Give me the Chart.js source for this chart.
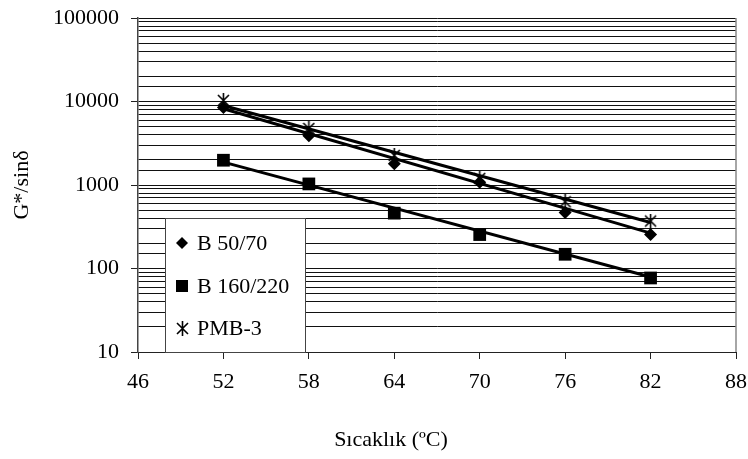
<!DOCTYPE html>
<html>
<head>
<meta charset="utf-8">
<script src="https://cdn.jsdelivr.net/npm/chart.js@4"></script>
<style>
  body { margin: 0; background: #fff; }
  #wrap { width: 748px; height: 459px; position: relative; }
</style>
</head>
<body>
<div id="wrap"><canvas id="chart" width="748" height="459"></canvas></div>
<script>
// values
const temps = [52, 58, 64, 70, 76, 82];
const seriesNames = ['B 50/70', 'B 160/220', 'PMB-3'];
const b5070 = [8500, 3900, 1800, 1080, 470, 255];
const b160220 = [1980, 1030, 460, 255, 148, 77];
const pmb3 = [10300, 4750, 2260, 1200, 630, 370];
// trend lines: end values at 52 and 82
const trendX = [52, 82];
const trendB5070 = [8200, 265];
const trendB160220 = [1880, 79];
const trendPmb3 = [8950, 355];
const xTicks = [46, 52, 58, 64, 70, 76, 82, 88];
const xTitle = 'Sıcaklık (ºC)';
const yTitle = 'G*/sinδ';

const FONT = "'Liberation Serif', 'Times New Roman', serif";
const FSIZE = 22;

// Excel-like star marker: X with a vertical bar
function makeStar(w, h) {
  const c = document.createElement('canvas');
  c.width = w; c.height = h;
  const g = c.getContext('2d');
  g.strokeStyle = '#000';
  g.lineWidth = 1.6;
  g.beginPath();
  g.moveTo(1, 2); g.lineTo(w - 1, h - 2);
  g.moveTo(w - 1, 2); g.lineTo(1, h - 2);
  g.moveTo(w / 2, 0); g.lineTo(w / 2, h);
  g.stroke();
  return c;
}
const starImg = makeStar(13, 15);

function pts(xs, ys) {
  return xs.map((x, i) => ({ x: x, y: ys[i] }));
}

function isDecade(v) {
  const l = Math.log10(v);
  return Math.abs(l - Math.round(l)) < 1e-9;
}

const markerSets = [
  { label: seriesNames[0], data: pts(temps, b5070), pointStyle: 'rectRot', pointRadius: 6.5 },
  { label: seriesNames[1], data: pts(temps, b160220), pointStyle: 'rect', pointRadius: 9 },
  { label: seriesNames[2], data: pts(temps, pmb3), pointStyle: starImg, pointRadius: 7 }
].map(d => Object.assign(d, {
  showLine: false,
  backgroundColor: '#000',
  borderColor: '#000',
  borderWidth: 0
}));

const trendSets = [trendB5070, trendB160220, trendPmb3].map(t => ({
  label: 'trend',
  data: pts(trendX, t),
  showLine: true,
  borderColor: '#000',
  borderWidth: 3,
  pointRadius: 0,
  fill: false
}));

// legend box inside the plot + x axis title
const extras = {
  id: 'extras',
  afterDraw(chart) {
    const ctx = chart.ctx;
    const x = 165, y = 218, w = 140, h = 134;
    ctx.save();
    ctx.fillStyle = '#fff';
    ctx.fillRect(x, y, w, h);
    ctx.strokeStyle = '#444';
    ctx.lineWidth = 1;
    ctx.strokeRect(x + 0.5, y + 0.5, w, h);
    const rows = [243, 286, 328];
    ctx.font = FSIZE + 'px ' + FONT;
    ctx.fillStyle = '#000';
    ctx.textBaseline = 'middle';
    markerSets.forEach((ds, i) => {
      const mx = 182, my = rows[i];
      if (i === 0) {
        ctx.beginPath();
        ctx.moveTo(mx, my - 6); ctx.lineTo(mx + 6, my); ctx.lineTo(mx, my + 6); ctx.lineTo(mx - 6, my);
        ctx.closePath(); ctx.fill();
      } else if (i === 1) {
        ctx.fillRect(mx - 6, my - 6, 12, 12);
      } else {
        ctx.drawImage(starImg, mx - 6, my - 7);
      }
      ctx.fillText(ds.label, 197, my + 1);
    });
    ctx.textAlign = 'center';
    ctx.fillText(xTitle, 391, 440);
    ctx.restore();
  }
};

// right edge of plot area
const frame = {
  id: 'frame',
  beforeDatasetsDraw(chart) {
    const a = chart.chartArea, ctx = chart.ctx;
    ctx.save();
    ctx.strokeStyle = '#888';
    ctx.lineWidth = 1.5;
    ctx.beginPath();
    ctx.moveTo(a.right, a.top);
    ctx.lineTo(a.right, a.bottom);
    ctx.stroke();
    ctx.restore();
  }
};

new Chart(document.getElementById('chart'), {
  type: 'scatter',
  data: { datasets: markerSets.concat(trendSets) },
  options: {
    responsive: false,
    animation: false,
    layout: { padding: { top: 18, right: 12, left: 0, bottom: 0 } },
    plugins: { legend: { display: false }, tooltip: { enabled: false } },
    scales: {
      x: {
        type: 'linear',
        min: 46, max: 88,
        afterBuildTicks: s => { s.ticks = xTicks.map(v => ({ value: v })); },
        afterFit: s => { s.height = 107; s.paddingLeft = 0; s.paddingRight = 0; },
        grid: { drawOnChartArea: false, tickLength: 7, color: '#222', tickWidth: 1 },
        border: { color: '#222', width: 1 },
        ticks: { color: '#000', font: { family: FONT, size: FSIZE }, padding: 10, maxRotation: 0 }
      },
      y: {
        type: 'logarithmic',
        min: 10, max: 100000,
        afterFit: s => { s.width = 138; s.paddingTop = 0; s.paddingBottom = 0; },
        grid: {
          color: '#111',
          lineWidth: 1,
          tickLength: 7,
          tickColor: c => (c.tick && isDecade(c.tick.value)) ? '#222' : 'rgba(0,0,0,0)'
        },
        border: { color: '#444', width: 1.5 },
        ticks: {
          autoSkip: false,
          color: '#000',
          font: { family: FONT, size: FSIZE },
          padding: 12,
          callback: v => isDecade(v) ? String(v) : ''
        },
        title: {
          display: true, text: yTitle, color: '#000',
          font: { family: FONT, size: FSIZE }, padding: { top: 9, bottom: 0 }
        }
      }
    }
  },
  plugins: [frame, extras]
});
</script>
</body>
</html>
